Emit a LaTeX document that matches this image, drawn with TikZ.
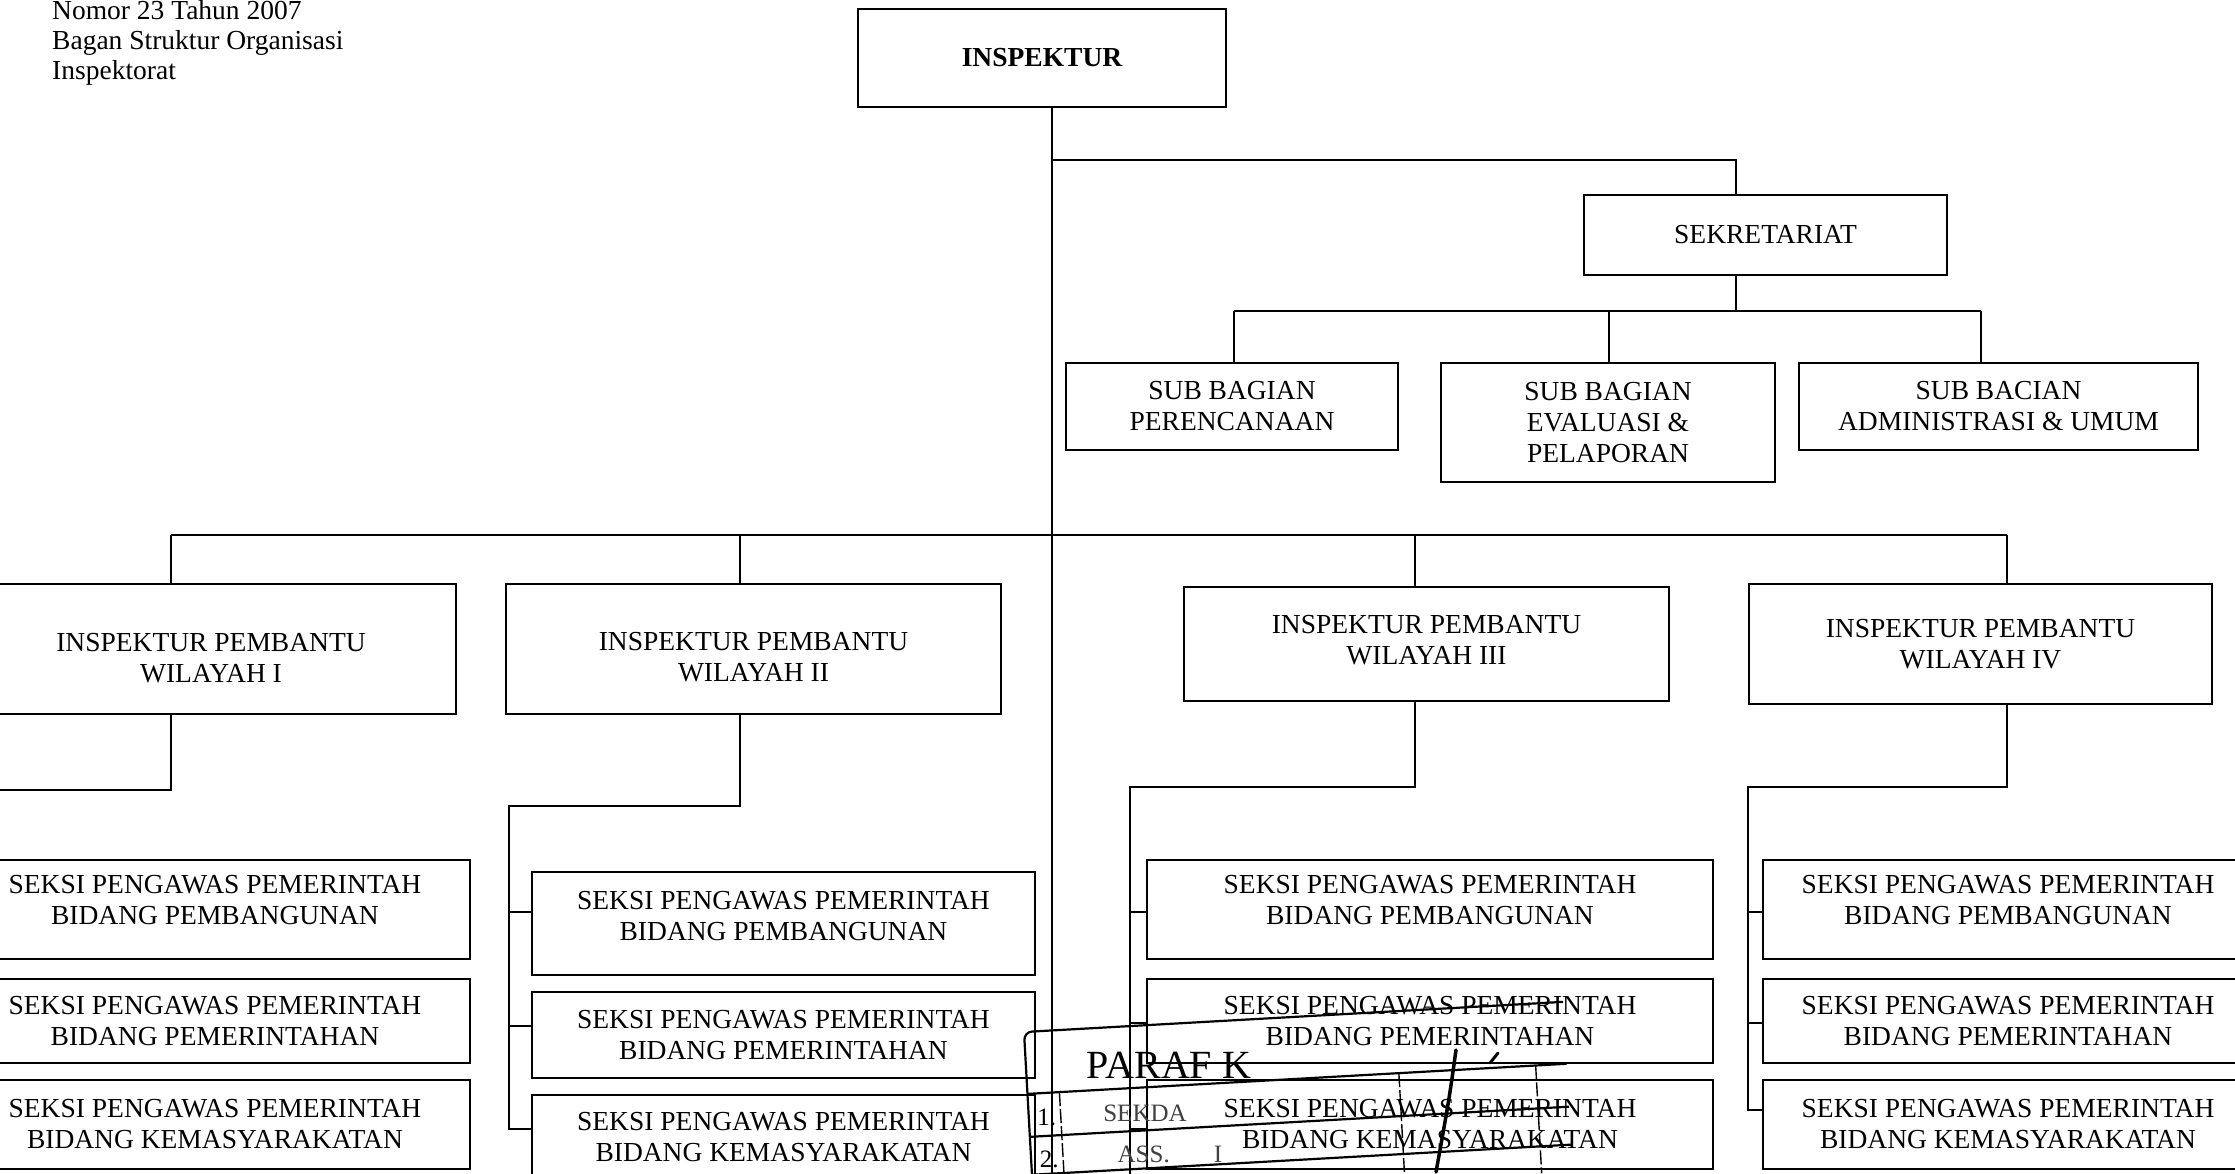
\documentclass[tikz,border=0pt]{standalone}
\usepackage{fontspec}
\setmainfont{Liberation Serif}
\begin{document}
\begin{tikzpicture}[x=1pt,y=-1pt,
  box/.style={draw, line width=2.6pt, rectangle, inner sep=0pt, align=center,
              font=\fontsize{27.5}{31}\selectfont},
  lbl/.style={inner sep=0pt, align=center, font=\fontsize{27.5}{31}\selectfont},
  link/.style={line width=2pt},
  stampline/.style={line width=2.2pt},
  stampthin/.style={line width=1.4pt, dash pattern=on 14pt off 3pt},
  stamptext/.style={inner sep=0pt, font=\fontsize{25}{27}\selectfont}]
\useasboundingbox (0,0) rectangle (2235,1174);
\clip (0,0) rectangle (2235,1174);

% heading
\node[anchor=north west, inner sep=0pt, align=left, font=\fontsize{27.5}{30}\selectfont]
  (head) at (52,0) {Nomor 23 Tahun 2007\\Bagan Struktur Organisasi\\Inspektorat};

% top level and secretariat
\node[box, minimum width=368, minimum height=98, font=\bfseries\fontsize{27.5}{31}\selectfont]
  (insp) at (1042,58) {INSPEKTUR};
\node[box, minimum width=363, minimum height=80] (sekr) at (1765.5,235) {SEKRETARIAT};
\node[box, minimum width=332, minimum height=87] (sub1) at (1232,406.5) {SUB BAGIAN\\PERENCANAAN};
\node[box, minimum width=334, minimum height=119] (sub2) at (1608,422.5) {SUB BAGIAN\\EVALUASI \&\\PELAPORAN};
\node[box, minimum width=399, minimum height=87] (sub3) at (1998.5,406.5) {SUB BACIAN\\ADMINISTRASI \& UMUM};

% regional assistant inspectors (frame, then caption)
\node[box, minimum width=490, minimum height=130] (w1) at (211,649) {};
\node[box, minimum width=495, minimum height=130] (w2) at (753.5,649) {};
\node[box, minimum width=485, minimum height=114] (w3) at (1426.5,644) {};
\node[box, minimum width=463, minimum height=120] (w4) at (1980.5,644) {};
\node[lbl, yshift=-9pt] (w1t) at (w1.center) {INSPEKTUR PEMBANTU\\WILAYAH I};
\node[lbl, yshift=-8pt] (w2t) at (w2.center) {INSPEKTUR PEMBANTU\\WILAYAH II};
\node[lbl, yshift=4pt] (w3t) at (w3.center) {INSPEKTUR PEMBANTU\\WILAYAH III};
\node[lbl] (w4t) at (w4.center) {INSPEKTUR PEMBANTU\\WILAYAH IV};

% sections under each region
\foreach \c/\x/\w in {1/215/510, 3/1430/566, 4/2008/490} {
  \node[box, minimum width=\w, minimum height=99] (s\c1) at (\x,909.5) {};
  \node[box, minimum width=\w, minimum height=84] (s\c2) at (\x,1021) {};
  \node[box, minimum width=\w, minimum height=89] (s\c3) at (\x,1124.5) {};
  \node[lbl, yshift=9pt] (s\c1t) at (s\c1.center) {SEKSI PENGAWAS PEMERINTAH\\BIDANG PEMBANGUNAN};
  \node[lbl] (s\c2t) at (s\c2.center) {SEKSI PENGAWAS PEMERINTAH\\BIDANG PEMERINTAHAN};
  \node[lbl] (s\c3t) at (s\c3.center) {SEKSI PENGAWAS PEMERINTAH\\BIDANG KEMASYARAKATAN};
}
\node[box, minimum width=503, minimum height=103] (s21) at (783.5,923.5) {};
\node[box, minimum width=503, minimum height=86] (s22) at (783.5,1035) {};
\node[box, minimum width=503, minimum height=85] (s23) at (783.5,1137.5) {};
\node[lbl, yshift=7pt] (s21t) at (s21.center) {SEKSI PENGAWAS PEMERINTAH\\BIDANG PEMBANGUNAN};
\node[lbl] (s22t) at (s22.center) {SEKSI PENGAWAS PEMERINTAH\\BIDANG PEMERINTAHAN};
\node[lbl] (s23t) at (s23.center) {SEKSI PENGAWAS PEMERINTAH\\BIDANG KEMASYARAKATAN};

% main trunk
\coordinate (tkEnd) at (1052,1180);
\draw[link] (insp.south -| tkEnd) -- (tkEnd);

% secretariat branch
\coordinate (jS) at (1052,160);
\coordinate (kS) at (1736,160);
\draw[link] (jS) -- (kS) -- (kS |- sekr.north);
\coordinate (kB) at (1736,311);
\draw[link] (sekr.south -| kB) -- (kB);
\coordinate (bus1L) at (1234,311);
\coordinate (bus1M) at (1609,311);
\coordinate (bus1R) at (1981,311);
\draw[link] (bus1L) -- (bus1R);
\draw[link] (bus1L) -- (bus1L |- sub1.north);
\draw[link] (bus1M) -- (bus1M |- sub2.north);
\draw[link] (bus1R) -- (bus1R |- sub3.north);

% regional bus
\coordinate (bus2L) at (171,535);
\coordinate (bus2b) at (740,535);
\coordinate (bus2c) at (1415,535);
\coordinate (bus2R) at (2007,535);
\draw[link] (bus2L) -- (bus2R);
\draw[link] (bus2L) -- (bus2L |- w1.north);
\draw[link] (bus2b) -- (bus2b |- w2.north);
\draw[link] (bus2c) -- (bus2c |- w3.north);
\draw[link] (bus2R) -- (bus2R |- w4.north);

% region I feeder
\coordinate (c1) at (171,790);
\coordinate (c1end) at (-5,790);
\draw[link] (w1.south -| c1) -- (c1) -- (c1end);

% region II feeder
\coordinate (c2a) at (740,806);
\coordinate (c2b) at (509,806);
\coordinate (c2t1) at (509,912);
\coordinate (c2t2) at (509,1026);
\coordinate (c2t3) at (509,1129);
\draw[link] (w2.south -| c2a) -- (c2a) -- (c2b) -- (c2t3) -- (c2t3 -| s23.west);
\draw[link] (c2t1) -- (c2t1 -| s21.west);
\draw[link] (c2t2) -- (c2t2 -| s22.west);

% region III feeder
\coordinate (c3a) at (1415,787);
\coordinate (c3b) at (1130,787);
\coordinate (c3end) at (1130,1180);
\coordinate (c3t1) at (1130,912);
\coordinate (c3t2) at (1130,1023);
\coordinate (c3t3) at (1130,1129);
\draw[link] (w3.south -| c3a) -- (c3a) -- (c3b) -- (c3end);
\draw[link] (c3t1) -- (c3t1 -| s31.west);
\draw[link] (c3t2) -- (c3t2 -| s32.west);
\draw[link] (c3t3) -- (c3t3 -| s33.west);

% region IV feeder
\coordinate (c4a) at (2007,787);
\coordinate (c4b) at (1748,787);
\coordinate (c4t1) at (1748,912);
\coordinate (c4t2) at (1748,1023);
\coordinate (c4t3) at (1748,1110);
\draw[link] (w4.south -| c4a) -- (c4a) -- (c4b) -- (c4t3) -- (c4t3 -| s43.west);
\draw[link] (c4t1) -- (c4t1 -| s41.west);
\draw[link] (c4t2) -- (c4t2 -| s42.west);

% coordination stamp
\begin{scope}[shift={(1024,1032)}, rotate=3.2]
  \draw[stampline, rounded corners=8pt] (0,160) -- (0,0) -- (540,0);
  \draw[stampline] (0,62) -- (540,62);
  \draw[stampline] (0,105) -- (540,105);
  \draw[stampline] (0,143) -- (540,143);
  \draw[stampthin] (32,62) -- (32,160);
  \draw[stampthin] (372,62) -- (372,170);
  \draw[stampthin] (509,62) -- (509,170);
  \node[inner sep=0pt, anchor=base west, font=\fontsize{40}{42}\selectfont] (stH) at (60,50) {PARAF K};
  \node[stamptext, anchor=base west] (st1n) at (8,94) {1.};
  \node[stamptext, anchor=base west, text=black!75] (st1) at (74,94) {SEKDA};
  \node[stamptext, anchor=base west] (st2n) at (8,136) {2.};
  \node[stamptext, anchor=base west, text=black!75] (st2) at (86,136) {ASS.\hspace{44pt}I};
\end{scope}
\draw[line width=3.5pt, line cap=round] (1456,1050) .. controls (1449,1100) .. (1436,1172);
\draw[line width=3pt, line cap=round] (1490,1063) -- (1498,1053);
\end{tikzpicture}
\end{document}
